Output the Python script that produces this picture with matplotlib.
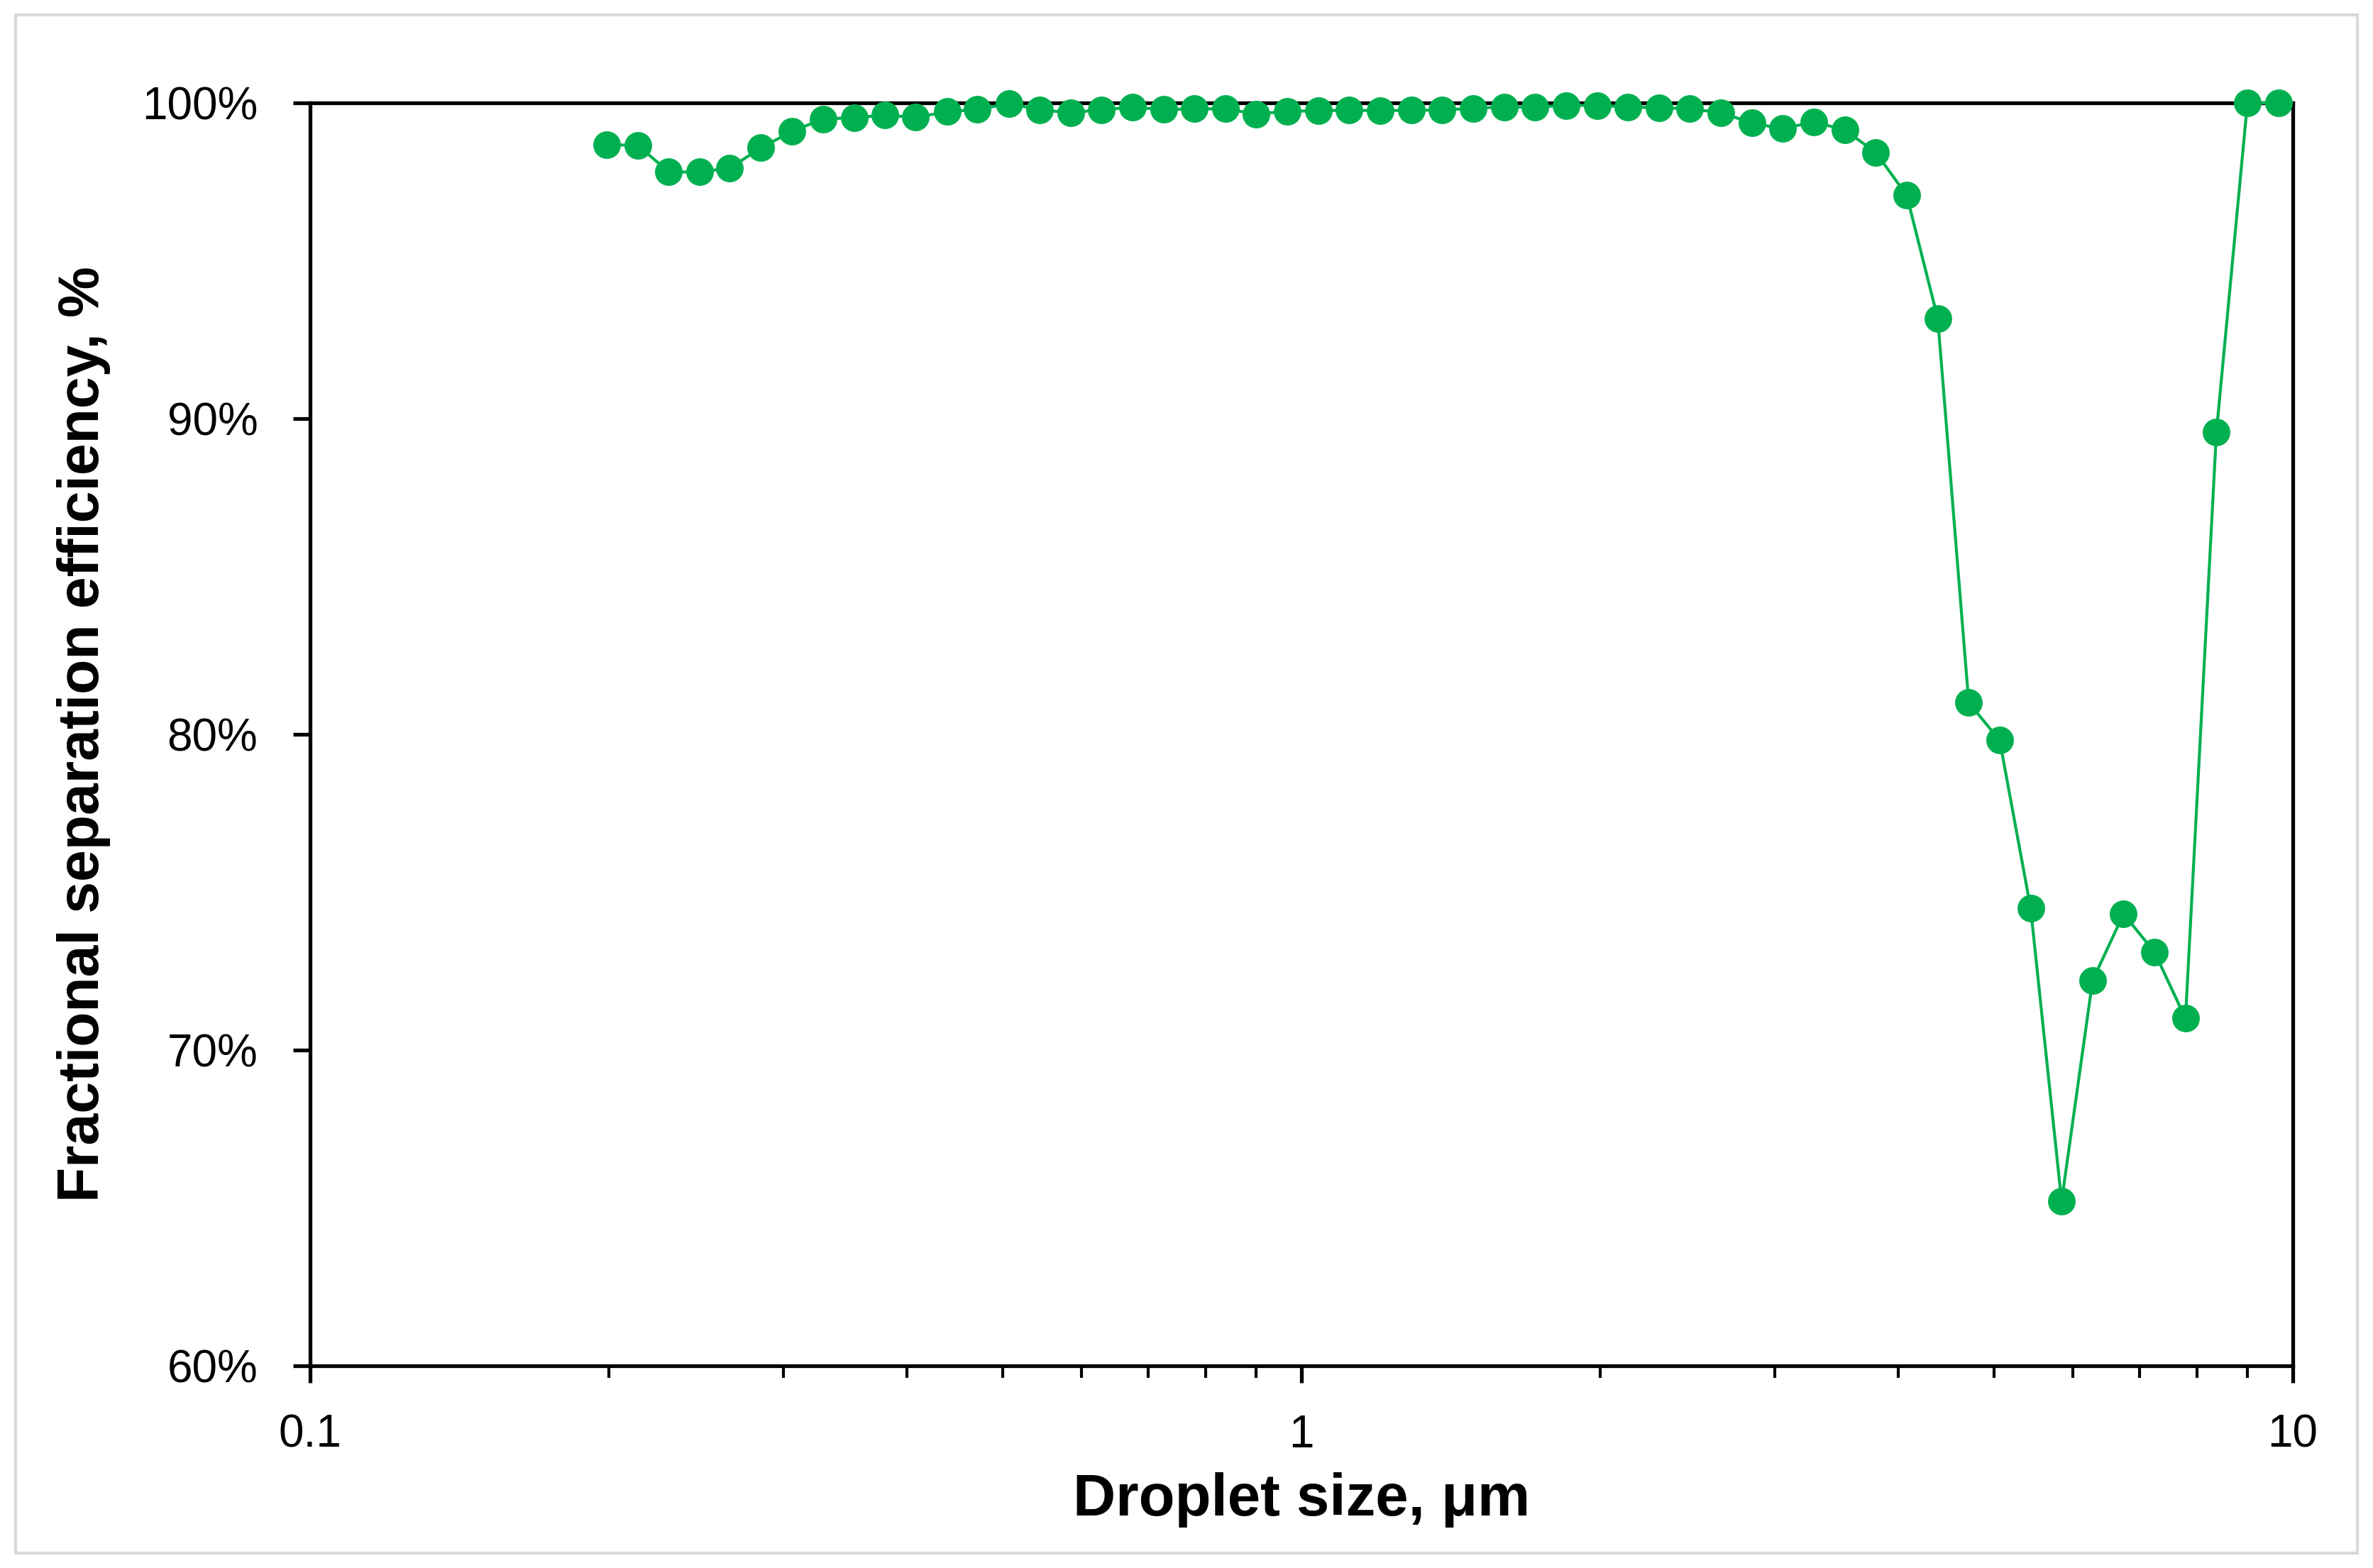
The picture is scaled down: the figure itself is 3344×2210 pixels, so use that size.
import matplotlib
matplotlib.use("Agg")
import matplotlib.pyplot as plt
from matplotlib.patches import Rectangle
from matplotlib.ticker import PercentFormatter, LogLocator, NullFormatter

plt.rcParams['font.family'] = ['Liberation Sans', 'DejaVu Sans']

# droplet size, um
droplet_size = [0.199, 0.214, 0.230, 0.247, 0.265, 0.285, 0.306, 0.329, 0.354, 0.380,
                0.408, 0.439, 0.471, 0.507, 0.544, 0.585, 0.628, 0.675, 0.726, 0.780,
                0.838, 0.900, 0.968, 1.040, 1.117, 1.201, 1.290, 1.387, 1.490, 1.601,
                1.721, 1.849, 1.987, 2.135, 2.294, 2.465, 2.649, 2.847, 3.059, 3.287,
                3.533, 3.796, 4.079, 4.384, 4.711, 5.062, 5.439, 5.845, 6.281, 6.749,
                7.253, 7.794, 8.375, 9.000, 9.672]

# fractional separation efficiency, %
efficiency = [98.67, 98.66, 97.81, 97.81, 97.93, 98.58, 99.09, 99.49, 99.53, 99.61,
              99.54, 99.72, 99.79, 99.98, 99.78, 99.69, 99.78, 99.86, 99.79, 99.81,
              99.81, 99.65, 99.73, 99.75, 99.77, 99.75, 99.77, 99.77, 99.83, 99.87,
              99.87, 99.92, 99.92, 99.87, 99.85, 99.81, 99.69, 99.36, 99.18, 99.40,
              99.14, 98.43, 97.07, 93.17, 81.00, 79.81, 74.50, 65.21, 72.20, 74.31,
              73.10, 71.00, 89.58, 100.0, 100.0]

y_ticks = [60, 70, 80, 90, 100]
x_ticks = [0.1, 1, 10]
x_ticklabels = ["0.1", "1", "10"]

green = "#00B050"

fig = plt.figure(figsize=(16.72, 11.05), dpi=200)
ax = fig.add_axes([0.1307, 0.1290, 0.8355, 0.8054])

ax.plot(droplet_size, efficiency, color=green, lw=1.5, marker="o", ms=13,
        mec=green, mfc=green, clip_on=False, zorder=5)

ax.set_xscale("log")
ax.set_xlim(0.1, 10)
ax.set_ylim(60, 100)
ax.set_xticks(x_ticks)
ax.set_xticklabels(x_ticklabels)
ax.xaxis.set_minor_locator(LogLocator(base=10, subs=range(2, 10)))
ax.xaxis.set_minor_formatter(NullFormatter())
ax.set_yticks(y_ticks)
ax.yaxis.set_major_formatter(PercentFormatter(decimals=0))

for s in ax.spines.values():
    s.set_linewidth(1.9)
    s.set_color("black")

ax.tick_params(axis="both", which="major", direction="out", length=8.5, width=1.9,
               labelsize=23, pad=16)
ax.tick_params(axis="y", which="major", pad=18)
ax.tick_params(axis="x", which="minor", direction="out", length=6, width=1.5)

ax.set_xlabel("Droplet size, \u03bcm", fontsize=30, fontweight="bold", labelpad=8)
ax.set_ylabel("Fractional separation efficiency, %", fontsize=29, fontweight="bold",
              labelpad=16)

# light grey chart border
fig.patches.append(Rectangle((22 / 3344, 1 - 2189 / 2210), 3300 / 3344, 2168 / 2210,
                             transform=fig.transFigure, fill=False,
                             edgecolor="#d9d9d9", lw=1.5))

fig.savefig("out.png", dpi=200, facecolor="white")
